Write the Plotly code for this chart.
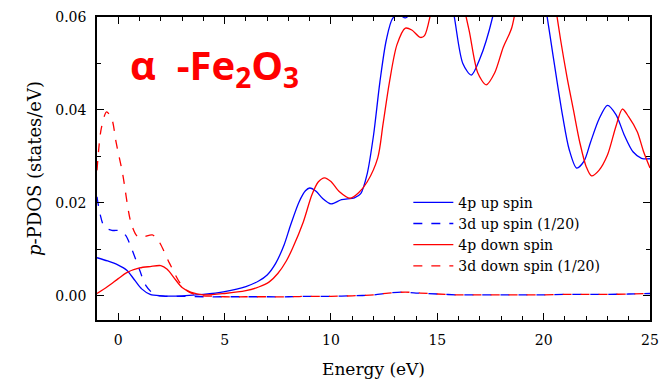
import plotly.graph_objects as go

# ---- data ----
e_4p_up = [-1.0, -0.5, 0.0, 0.4, 0.8, 1.1, 1.5, 2.0, 3.0, 4.0, 5.0, 6.0, 6.6, 7.0, 7.4, 7.8, 8.1, 8.5, 8.8, 9.0,
           9.3, 9.6, 10.0, 10.5, 11.1, 11.4, 11.7, 12.0, 12.3, 12.6, 12.9, 13.2, 13.5, 13.8, 14.2, 14.8, 15.4,
           15.8, 16.2, 16.6, 17.0, 17.6, 18.3, 19.0, 19.6, 20.0, 20.3, 20.6, 20.9, 21.2, 21.55, 21.9, 22.2,
           22.6, 23.0, 23.4, 23.8, 24.2, 24.6, 25.0]
y_4p_up = [0.0082, 0.0075, 0.0066, 0.0055, 0.0032, 0.0015, 0.0003, 0.0000, 0.0000, 0.0003, 0.0009, 0.0020,
           0.0032, 0.0045, 0.0070, 0.0110, 0.0152, 0.0202, 0.0226, 0.0232, 0.0225, 0.0210, 0.0198, 0.0207,
           0.0211, 0.0220, 0.0262, 0.0345, 0.0460, 0.0550, 0.0597, 0.0605, 0.0598, 0.0615, 0.0700, 0.0760,
           0.0700, 0.0600, 0.0500, 0.0475, 0.0510, 0.0600, 0.0780, 0.0850, 0.0780, 0.0650, 0.0560, 0.0470,
           0.0385, 0.0315, 0.0275, 0.0290, 0.0330, 0.0380, 0.0410, 0.0390, 0.0345, 0.0310, 0.0296, 0.0295]

e_4p_dn = [-1.0, -0.5, 0.0, 0.4, 1.0, 1.5, 2.0, 2.3, 2.7, 3.0, 3.4, 4.0, 5.0, 6.0, 6.6, 7.1, 7.5, 7.9, 8.2, 8.7,
           9.1, 9.4, 9.7, 10.0, 10.4, 10.9, 11.3, 11.7, 12.2, 12.45, 12.75, 13.1, 13.5, 13.8, 14.2, 14.4, 14.7,
           15.2, 15.7, 16.1, 16.5, 16.9, 17.3, 17.7, 18.1, 18.5, 19.0, 19.6, 20.1, 20.5, 20.8, 21.1, 21.4,
           21.7, 22.0, 22.25, 22.6, 23.0, 23.4, 23.7, 24.0, 24.4, 24.7, 25.0]
y_4p_dn = [0.0005, 0.0020, 0.0037, 0.0050, 0.0060, 0.0063, 0.0065, 0.0057, 0.0034, 0.0018, 0.0008, 0.0002,
           0.0005, 0.0011, 0.0019, 0.0030, 0.0048, 0.0075, 0.0103, 0.0159, 0.0217, 0.0245, 0.0254, 0.0246,
           0.0224, 0.0210, 0.0222, 0.0245, 0.0297, 0.0370, 0.0460, 0.0540, 0.0576, 0.0572, 0.0556, 0.0560,
           0.0610, 0.0730, 0.0720, 0.0650, 0.0570, 0.0480, 0.0454, 0.0480, 0.0535, 0.0577, 0.0700, 0.0820,
           0.0760, 0.0640, 0.0550, 0.0470, 0.0400, 0.0330, 0.0278, 0.0258, 0.0270, 0.0303, 0.0365, 0.0402,
           0.0385, 0.0353, 0.0310, 0.0275]

e_3d_up = [-1.0, -0.85, -0.65, -0.3, 0.1, 0.35, 0.65, 1.0, 1.3, 1.7, 2.2, 3.0, 4.0, 5.0, 6.0, 7.0, 8.0, 9.0,
           10.0, 11.0, 12.0, 12.7, 13.3, 14.0, 15.0, 16.0, 17.0, 18.0, 19.0, 20.0, 21.0, 22.0, 23.0, 24.0, 25.0]
y_3d_up = [0.0213, 0.0175, 0.0148, 0.0141, 0.0140, 0.0130, 0.0099, 0.0056, 0.0022, 0.0003, -0.0001, -0.0001,
           -0.0002, -0.0002, -0.0002, -0.0002, -0.0002, -0.0001, -0.0001, 0.0000, 0.0002, 0.0006, 0.0008,
           0.0006, 0.0004, 0.0002, 0.0002, 0.0002, 0.0002, 0.0002, 0.0003, 0.0003, 0.0003, 0.0004, 0.0005]

e_3d_dn = [-1.0, -0.8, -0.55, -0.3, -0.1, 0.2, 0.6, 0.9, 1.2, 1.6, 1.9, 2.4, 2.9, 3.3, 3.8, 4.5, 5.0, 6.0, 7.0,
           8.0, 9.0, 10.0, 11.0, 12.0, 12.7, 13.5, 14.2, 15.0, 16.0, 17.0, 18.0, 19.0, 20.0, 21.0, 22.0, 23.0,
           24.0, 25.0]
y_3d_dn = [0.0270, 0.0360, 0.0396, 0.0380, 0.0330, 0.0264, 0.0157, 0.0128, 0.0127, 0.0131, 0.0118, 0.0071,
           0.0028, 0.0009, 0.0001, -0.0001, -0.0002, -0.0002, -0.0002, -0.0002, -0.0001, -0.0001, 0.0000,
           0.0002, 0.0006, 0.0008, 0.0006, 0.0004, 0.0002, 0.0002, 0.0002, 0.0002, 0.0002, 0.0003, 0.0003,
           0.0003, 0.0004, 0.0005]

series_names = ["4p up spin", "3d up spin (1/20)", "4p down spin", "3d down spin (1/20)"]
x_ticks = [0, 5, 10, 15, 20, 25]
y_ticks = [0.00, 0.02, 0.04, 0.06]
y_tick_labels = ["0.00", "0.02", "0.04", "0.06"]

BLUE = "#0000ff"
RED = "#ff0000"
SERIF = "DejaVu Serif"

fig = go.Figure()
specs = [
    (e_4p_up, y_4p_up, series_names[0], BLUE, "solid"),
    (e_3d_up, y_3d_up, series_names[1], BLUE, "dash"),
    (e_4p_dn, y_4p_dn, series_names[2], RED, "solid"),
    (e_3d_dn, y_3d_dn, series_names[3], RED, "dash"),
]
for xs, ys, nm, col, dash in specs:
    fig.add_trace(go.Scatter(
        x=xs, y=ys, name=nm, mode="lines",
        line=dict(color=col, width=1.3, dash=dash, shape="spline", smoothing=0.8),
    ))

axis_common = dict(
    showline=True, linecolor="black", linewidth=1.5, mirror="allticks",
    ticks="inside", ticklen=7, tickwidth=1.3, tickcolor="black",
    showgrid=False, zeroline=False, automargin=False,
    tickfont=dict(family=SERIF, size=14, color="black"),
)

fig.update_xaxes(
    range=[-1, 25], tickvals=x_ticks, ticklabelstandoff=6,
    minor=dict(dtick=1, ticks="inside", ticklen=4, tickwidth=1.2, tickcolor="black", showgrid=False),
    title=dict(text="Energy (eV)", font=dict(family=SERIF, size=17, color="black"), standoff=17),
    **axis_common,
)
fig.update_yaxes(
    range=[-0.0052, 0.06], tickvals=y_ticks, ticktext=y_tick_labels, ticklabelstandoff=6,
    minor=dict(dtick=0.01, ticks="inside", ticklen=4, tickwidth=1.2, tickcolor="black", showgrid=False),
    title=dict(text="<i>p</i>-PDOS (states/eV)", font=dict(family=SERIF, size=18, color="black"), standoff=9),
    **axis_common,
)

fig.add_annotation(
    text="α  -Fe<sub>2</sub>O<sub>3</sub>",
    xref="paper", yref="paper", x=0.213, y=0.835, xanchor="center", yanchor="middle",
    showarrow=False, font=dict(family="Open Sans", size=40, color=RED, weight="bold"),
)

fig.update_layout(
    width=661, height=379,
    margin=dict(l=97, r=11, t=17, b=59),
    paper_bgcolor="white", plot_bgcolor="white",
    showlegend=True,
    legend=dict(
        x=0.563, y=0.44, xanchor="left", yanchor="top",
        bgcolor="rgba(0,0,0,0)", borderwidth=0,
        font=dict(family=SERIF, size=14, color="black"),
        tracegroupgap=0, itemwidth=40,
    ),
)

fig.write_html("out.html")
